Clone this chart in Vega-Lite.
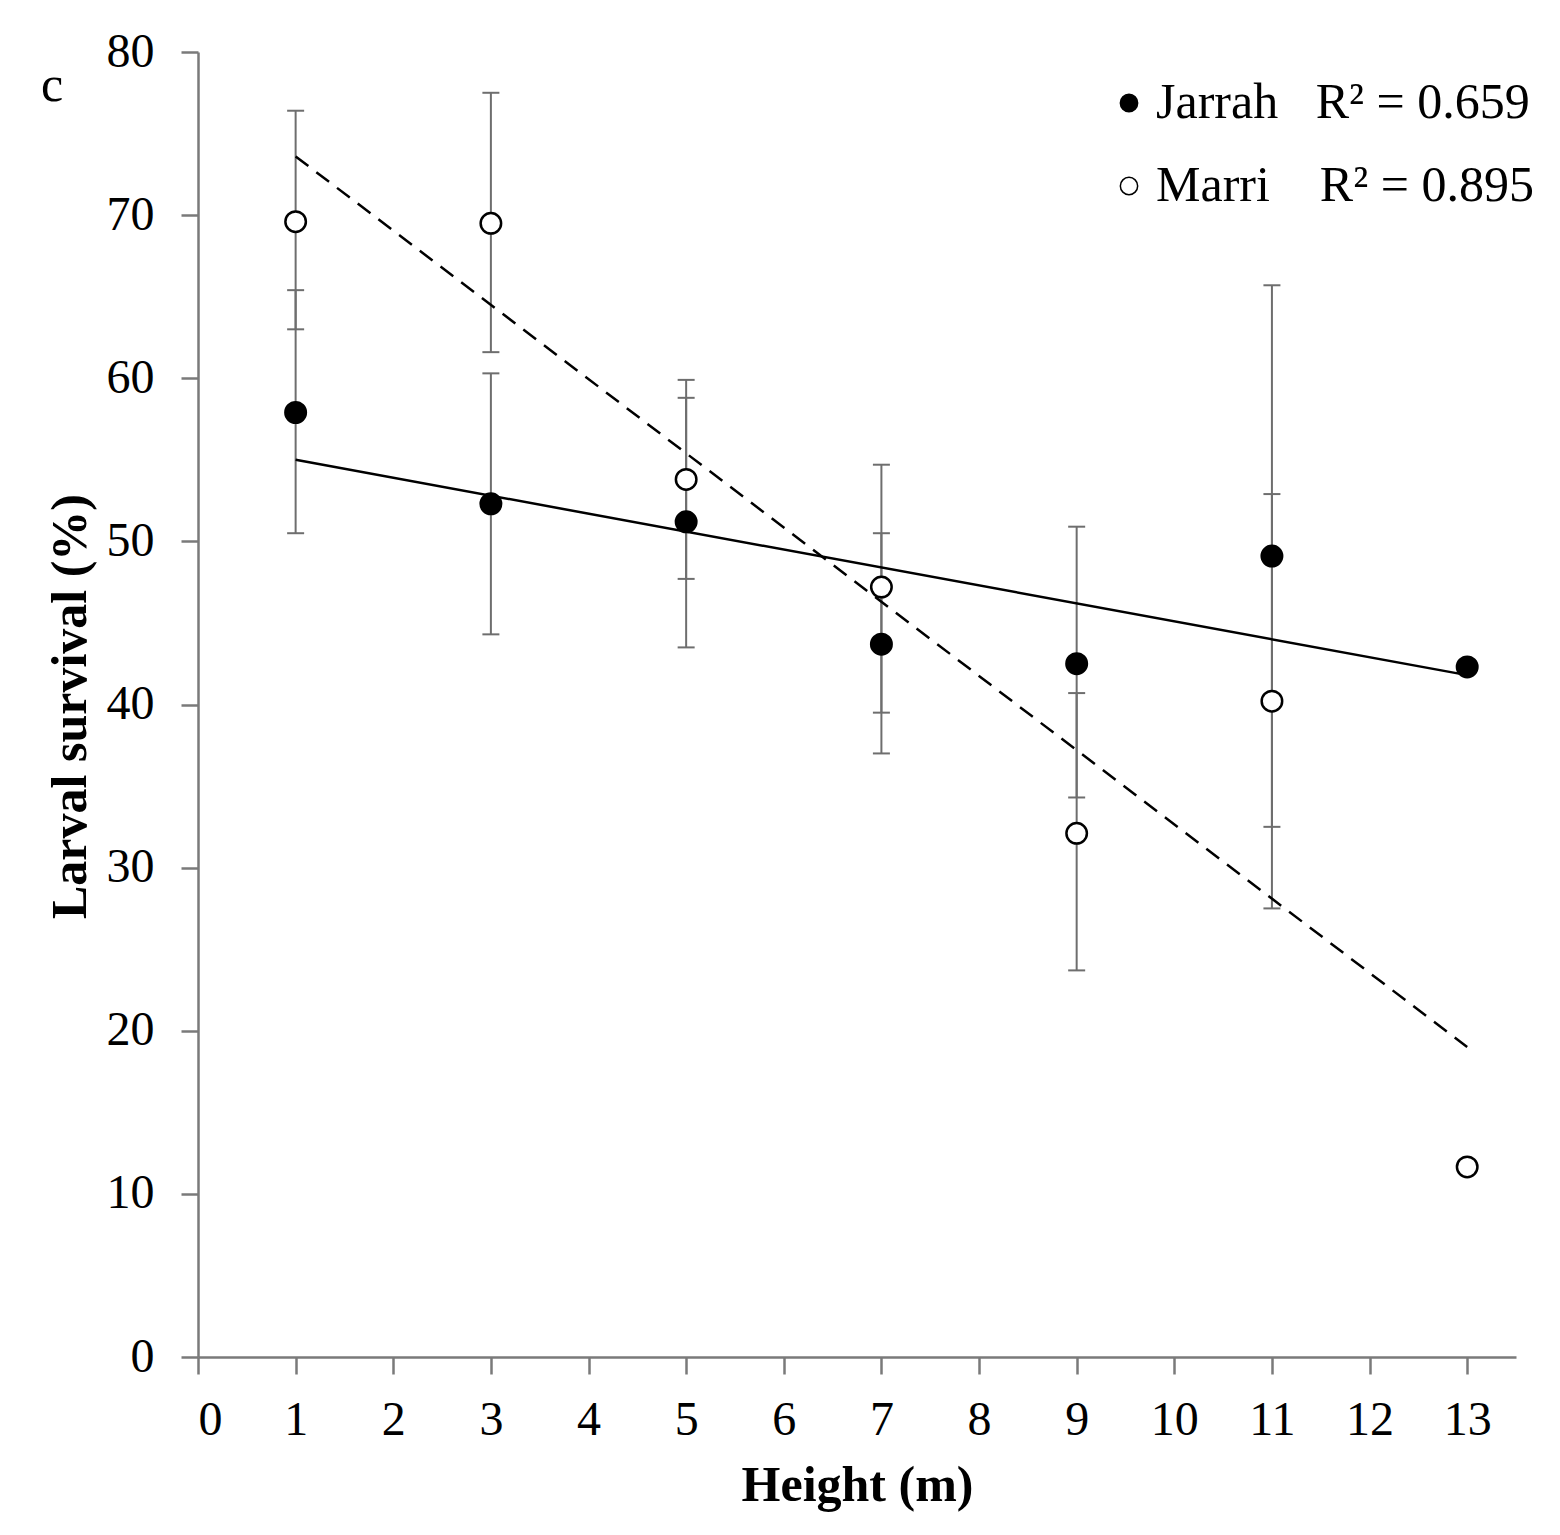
{
  "$schema": "https://vega.github.io/schema/vega-lite/v6.json",
  "width": 1318,
  "height": 1305,
  "autosize": {"type": "none"},
  "padding": {"left": 198, "top": 52, "right": 44, "bottom": 178},
  "background": "white",
  "title": {
    "text": "c",
    "anchor": "start",
    "frame": "group",
    "orient": "top",
    "font": "Liberation Serif",
    "fontSize": 50,
    "fontWeight": "normal",
    "color": "black",
    "baseline": "alphabetic",
    "offset": 0,
    "dx": -157,
    "dy": 123
  },
  "datasets": {
    "points": [
      {"height": 1, "tree": "Jarrah", "survival": 57.9, "lo": 50.5, "hi": 65.4},
      {"height": 3, "tree": "Jarrah", "survival": 52.3, "lo": 44.3, "hi": 60.3},
      {"height": 5, "tree": "Jarrah", "survival": 51.2, "lo": 43.5, "hi": 58.8},
      {"height": 7, "tree": "Jarrah", "survival": 43.7, "lo": 37.0, "hi": 50.5},
      {"height": 9, "tree": "Jarrah", "survival": 42.5, "lo": 34.3, "hi": 50.9},
      {"height": 11, "tree": "Jarrah", "survival": 49.1, "lo": 32.5, "hi": 65.7},
      {"height": 13, "tree": "Jarrah", "survival": 42.3, "lo": null, "hi": null},
      {"height": 1, "tree": "Marri", "survival": 69.6, "lo": 63.0, "hi": 76.4},
      {"height": 3, "tree": "Marri", "survival": 69.5, "lo": 61.6, "hi": 77.5},
      {"height": 5, "tree": "Marri", "survival": 53.8, "lo": 47.7, "hi": 59.9},
      {"height": 7, "tree": "Marri", "survival": 47.2, "lo": 39.5, "hi": 54.7},
      {"height": 9, "tree": "Marri", "survival": 32.1, "lo": 23.7, "hi": 40.7},
      {"height": 11, "tree": "Marri", "survival": 40.2, "lo": 27.5, "hi": 52.9},
      {"height": 13, "tree": "Marri", "survival": 11.65, "lo": null, "hi": null}
    ],
    "trend": [
      {"height": 1, "tree": "Jarrah", "fit": 55.0},
      {"height": 13, "tree": "Jarrah", "fit": 41.8},
      {"height": 1, "tree": "Marri", "fit": 73.6},
      {"height": 13, "tree": "Marri", "fit": 19.0}
    ]
  },
  "encoding": {
    "x": {
      "field": "height",
      "type": "quantitative",
      "scale": {"domain": [0, 13.5], "nice": false, "zero": false},
      "axis": {
        "title": "Height (m)",
        "values": [0, 1, 2, 3, 4, 5, 6, 7, 8, 9, 10, 11, 12, 13],
        "labelBaseline": "alphabetic",
        "labelPadding": 60,
        "titleX": 659,
        "titleY": 143,
        "titleBaseline": "alphabetic"
      }
    }
  },
  "layer": [
    {
      "data": {"name": "points"},
      "mark": {"type": "rule", "color": "#6e6e6e", "strokeWidth": 2},
      "encoding": {
        "y": {
          "field": "lo",
          "type": "quantitative",
          "scale": {"domain": [0, 80], "nice": false},
          "axis": {
            "title": "Larval survival (%)",
            "values": [0, 10, 20, 30, 40, 50, 60, 70, 80],
            "labelPadding": 27,
            "titleX": -113,
            "titleY": 654,
            "titleAngle": -90,
            "titleBaseline": "alphabetic",
            "titleAlign": "center"
          }
        },
        "y2": {"field": "hi"}
      }
    },
    {
      "data": {"name": "points"},
      "mark": {"type": "tick", "orient": "horizontal", "size": 17, "thickness": 2, "color": "#6e6e6e", "opacity": 1},
      "encoding": {"y": {"field": "lo", "type": "quantitative"}}
    },
    {
      "data": {"name": "points"},
      "mark": {"type": "tick", "orient": "horizontal", "size": 17, "thickness": 2, "color": "#6e6e6e", "opacity": 1},
      "encoding": {"y": {"field": "hi", "type": "quantitative"}}
    },
    {
      "data": {"name": "trend"},
      "transform": [{"filter": "datum.tree == 'Jarrah'"}],
      "mark": {"type": "line", "color": "black", "strokeWidth": 2.5},
      "encoding": {"y": {"field": "fit", "type": "quantitative"}}
    },
    {
      "data": {"name": "trend"},
      "transform": [{"filter": "datum.tree == 'Marri'"}],
      "mark": {"type": "line", "color": "black", "strokeWidth": 2.5, "strokeDash": [16, 10]},
      "encoding": {"y": {"field": "fit", "type": "quantitative"}}
    },
    {
      "data": {"name": "points"},
      "mark": {"type": "point", "shape": "circle", "filled": true, "size": 420, "stroke": "black", "strokeWidth": 2.5, "opacity": 1},
      "encoding": {
        "y": {"field": "survival", "type": "quantitative"},
        "fill": {
          "field": "tree",
          "type": "nominal",
          "scale": {"domain": ["Jarrah", "Marri"], "range": ["black", "white"]},
          "legend": {
            "orient": "none",
            "legendX": 906,
            "legendY": 26,
            "title": null,
            "padding": 0,
            "labelExpr": "datum.label == 'Jarrah' ? 'Jarrah\u00a0\u00a0\u00a0R² = 0.659' : 'Marri\u00a0\u00a0\u00a0\u00a0R² = 0.895'",
            "labelFont": "Liberation Serif",
            "labelFontSize": 50,
            "labelColor": "black",
            "labelOffset": 2,
            "labelLimit": 600,
            "symbolType": "circle",
            "symbolSize": 300,
            "symbolStrokeColor": "black",
            "symbolStrokeWidth": 1.5,
            "rowPadding": 33
          }
        }
      }
    }
  ],
  "config": {
    "view": {"stroke": null},
    "font": "Liberation Serif",
    "axis": {
      "grid": false,
      "domainColor": "#7a7a7a",
      "domainWidth": 2.5,
      "tickColor": "#7a7a7a",
      "tickWidth": 2.5,
      "tickSize": 17,
      "labelFont": "Liberation Serif",
      "labelFontSize": 48,
      "labelColor": "black",
      "titleFont": "Liberation Serif",
      "titleFontSize": 50,
      "titleFontWeight": "bold",
      "titleColor": "black"
    }
  }
}
